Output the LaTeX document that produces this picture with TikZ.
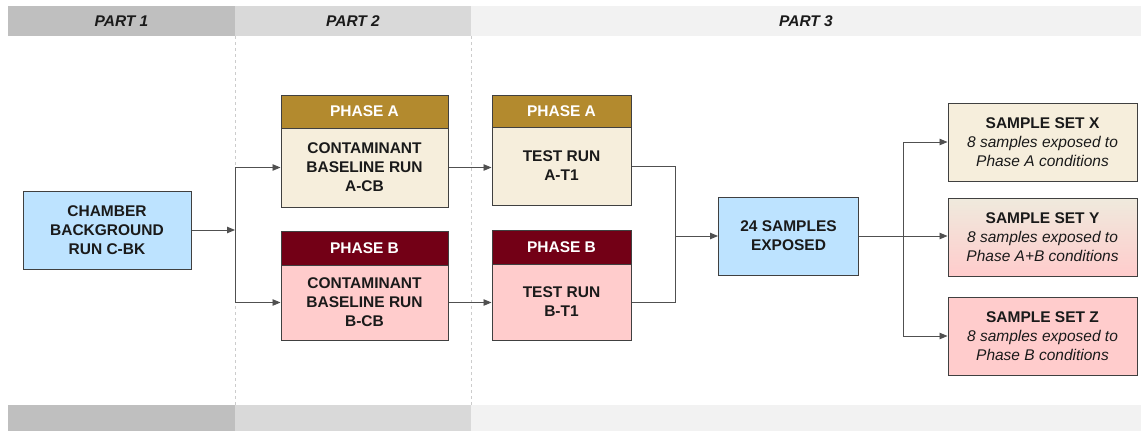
\documentclass[tikz,border=0pt]{standalone}
\usepackage{fontspec}
\setmainfont{Liberation Sans}
\usetikzlibrary{arrows.meta,calc}
\definecolor{blueb}{HTML}{BDE3FF}
\definecolor{goldh}{HTML}{B38A2E}
\definecolor{creamb}{HTML}{F6EEDC}
\definecolor{maroonh}{HTML}{730016}
\definecolor{pinkb}{HTML}{FFCCCC}
\definecolor{edgec}{HTML}{404040}
\definecolor{lnc}{HTML}{505050}
\definecolor{barA}{HTML}{BFBFBF}
\definecolor{barB}{HTML}{D9D9D9}
\definecolor{barC}{HTML}{F2F2F2}
\definecolor{midg}{HTML}{D8D8D8}
\definecolor{topc}{HTML}{EFEADD}
\definecolor{txt}{HTML}{1A1A1A}
\begin{document}
\begin{tikzpicture}[x=1pt,y=-1pt,
  box/.style={draw=edgec, line width=1pt, align=center, inner sep=0pt, text=txt,
    font=\fontsize{15.5}{19}\selectfont\bfseries},
  headA/.style={box, fill=goldh, text=white},
  headB/.style={box, fill=maroonh, text=white},
  ln/.style={draw=lnc, line width=0.9pt},
  arr/.style={ln, -{Triangle[length=8pt,width=6.5pt]}},
  partlbl/.style={font=\fontsize{15.5}{18}\selectfont\bfseries\itshape, text=txt},
  sep/.style={draw=black!20, dashed, line width=0.8pt}
]
\useasboundingbox (0,0) rectangle (1141,431);
% header and footer bars
\fill[barA] (8,6) rectangle (235,36);
\fill[barB] (235,6) rectangle (471,36);
\fill[barC] (471,6) rectangle (1141,36);
\fill[barA] (8,405) rectangle (235,431);
\fill[barB] (235,405) rectangle (471,431);
\fill[barC] (471,405) rectangle (1141,431);
\node[partlbl] (p1) at (121.5,21.5) {PART 1};
\node[partlbl] (p2) at (353,21.5) {PART 2};
\node[partlbl] (p3) at (806,21.5) {PART 3};
\draw[sep] (235,36) -- (235,405);
\draw[sep] (471,36) -- (471,405);

% boxes
\node[box, fill=blueb, minimum width=168pt, minimum height=78pt] (cbk) at (107,230)
  {CHAMBER\\BACKGROUND\\RUN C-BK};
\node[headA, minimum width=167pt, minimum height=33pt] (pah) at (364.5,111.5) {PHASE A};
\node[box, fill=creamb, minimum width=167pt, minimum height=79pt] (pab) at (364.5,167.5)
  {CONTAMINANT\\BASELINE RUN\\A-CB};
\node[headB, minimum width=167pt, minimum height=34pt] (pbh) at (364.5,248) {PHASE B};
\node[box, fill=pinkb, minimum width=167pt, minimum height=75pt] (pbb) at (364.5,302.5)
  {CONTAMINANT\\BASELINE RUN\\B-CB};
\node[headA, minimum width=139pt, minimum height=32pt] (tah) at (561.5,111) {PHASE A};
\node[box, fill=creamb, minimum width=139pt, minimum height=78pt] (tab) at (561.5,166)
  {TEST RUN\\A-T1};
\node[headB, minimum width=139pt, minimum height=34pt] (tbh) at (561.5,247) {PHASE B};
\node[box, fill=pinkb, minimum width=139pt, minimum height=76pt] (tbb) at (561.5,302)
  {TEST RUN\\B-T1};
\node[box, fill=blueb, minimum width=140pt, minimum height=78pt] (s24) at (788.5,236)
  {24 SAMPLES\\EXPOSED};
\node[box, fill=creamb, minimum width=189pt, minimum height=78pt] (sx) at (1042.5,142)
  {SAMPLE SET X\\{\mdseries\itshape 8 samples exposed to}\\{\mdseries\itshape Phase A conditions}};
\node[box, top color=topc, middle color=midg, bottom color=pinkb, minimum width=189pt, minimum height=78pt] (sy) at (1042.5,237)
  {SAMPLE SET Y\\{\mdseries\itshape 8 samples exposed to}\\{\mdseries\itshape Phase A+B conditions}};
\node[box, fill=pinkb, minimum width=189pt, minimum height=78pt] (sz) at (1042.5,336)
  {SAMPLE SET Z\\{\mdseries\itshape 8 samples exposed to}\\{\mdseries\itshape Phase B conditions}};

% connectors
\coordinate (j1) at (235,230);
\coordinate (j2) at (675,236);
\coordinate (j3) at (903,236);
\draw[arr] (cbk.east) -- (j1);
\draw[ln] (j1 |- pab.west) -- (j1 |- pbb.west);
\draw[arr] (j1 |- pab.west) -- (pab.west);
\draw[arr] (j1 |- pbb.west) -- (pbb.west);
\draw[arr] (pab.east) -- (pab.east -| tab.west);
\draw[arr] (pbb.east) -- (pbb.east -| tbb.west);
\draw[ln] (tab.east) -| (j2);
\draw[ln] (tbb.east) -| (j2);
\draw[arr] (j2) -- (s24.west);
\draw[ln] (s24.east) -- (j3);
\draw[ln] (j3 |- sx.west) -- (j3 |- sz.west);
\draw[arr] (j3 |- sx.west) -- (sx.west);
\draw[arr] (j3) -- (j3 -| sy.west);
\draw[arr] (j3 |- sz.west) -- (sz.west);
\end{tikzpicture}
\end{document}
